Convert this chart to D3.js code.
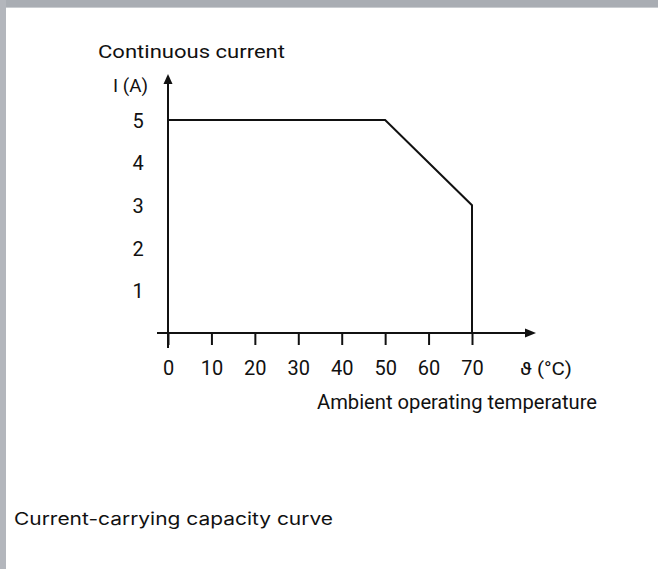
<!DOCTYPE html>
<html>
<head>
<meta charset="utf-8">
<script src="https://cdn.jsdelivr.net/npm/d3@7"></script>
<style>
  html, body { margin: 0; padding: 0; background: #fff; }
  svg { display: block; }
  .lbl { font-family: Roboto, "Noto Sans", sans-serif; fill: #111; }
</style>
</head>
<body>
<svg id="chart" width="658" height="569"></svg>
<script>
// derating curve: temperature (°C) vs continuous current (A)
var temps = [0, 50, 70, 70];
var currents = [5, 5, 3, 0];
var xTicks = [0, 10, 20, 30, 40, 50, 60, 70];
var yTicks = [1, 2, 3, 4, 5];

var width = 658, height = 569;
var svg = d3.select('#chart');

// frame of the page
svg.append('rect').attr('x', 0).attr('y', 0).attr('width', width).attr('height', 7).attr('fill', '#a9adb3');
svg.append('rect').attr('x', 0).attr('y', 0).attr('width', 6).attr('height', height).attr('fill', '#b3b6bc');
svg.append('rect').attr('x', 6).attr('y', 7).attr('width', width - 6).attr('height', 1).attr('fill', '#c9ccd0');

var x = d3.scaleLinear().domain([0, 70]).range([168, 472]);
var y = d3.scaleLinear().domain([0, 5]).range([333, 120]);

var g = svg.append('g');

// x axis ticks + labels
var xAxis = g.append('g')
    .attr('transform', 'translate(0,' + y(0) + ')')
    .call(d3.axisBottom(x).tickValues(xTicks).tickSize(12).tickFormat(d3.format('d')));
xAxis.select('.domain').remove();
xAxis.selectAll('.tick line').attr('stroke', '#111').attr('stroke-width', 2);
xAxis.selectAll('.tick text')
    .attr('class', 'lbl')
    .attr('y', 42).attr('dy', 0)
    .attr('font-size', 20);

// y axis labels
var yAxis = g.append('g')
    .attr('transform', 'translate(' + x(0) + ',0)')
    .call(d3.axisLeft(y).tickValues(yTicks).tickSize(0).tickFormat(d3.format('d')));
yAxis.select('.domain').remove();
yAxis.selectAll('.tick text')
    .attr('class', 'lbl')
    .attr('x', -30).attr('dy', '0.36em')
    .attr('text-anchor', 'middle')
    .attr('font-size', 20);

// axis lines with arrow heads
g.append('line')
    .attr('x1', x(0) - 11).attr('x2', 526)
    .attr('y1', y(0)).attr('y2', y(0))
    .attr('stroke', '#111').attr('stroke-width', 2);
g.append('path')
    .attr('d', 'M525,' + (y(0) - 4.5) + 'L536,' + y(0) + 'L525,' + (y(0) + 4.5) + 'Z')
    .attr('fill', '#111');

g.append('line')
    .attr('x1', x(0)).attr('x2', x(0))
    .attr('y1', y(0) + 15).attr('y2', 83)
    .attr('stroke', '#111').attr('stroke-width', 2);
g.append('path')
    .attr('d', 'M' + (x(0) - 4.5) + ',84L' + x(0) + ',74L' + (x(0) + 4.5) + ',84Z')
    .attr('fill', '#111');

// the curve
var line = d3.line()
    .x(function(d, i) { return x(temps[i]); })
    .y(function(d, i) { return y(currents[i]); });
g.append('path')
    .datum(temps)
    .attr('d', line)
    .attr('fill', 'none')
    .attr('stroke', '#111')
    .attr('stroke-width', 2)
    .attr('stroke-linejoin', 'miter');

// titles
g.append('text').attr('class', 'lbl')
    .attr('x', 98).attr('y', 58)
    .attr('font-size', 19)
    .attr('textLength', 187).attr('lengthAdjust', 'spacingAndGlyphs')
    .text('Continuous current');
g.append('text').attr('class', 'lbl')
    .attr('x', 113).attr('y', 92)
    .attr('font-size', 19)
    .attr('textLength', 35).attr('lengthAdjust', 'spacingAndGlyphs')
    .text('I (A)');
g.append('text').attr('class', 'lbl')
    .attr('x', 520).attr('y', 375)
    .attr('font-size', 19)
    .attr('textLength', 52).attr('lengthAdjust', 'spacingAndGlyphs')
    .text('ϑ (°C)');
g.append('text').attr('class', 'lbl')
    .attr('x', 317).attr('y', 409)
    .attr('font-size', 20)
    .attr('textLength', 280).attr('lengthAdjust', 'spacingAndGlyphs')
    .text('Ambient operating temperature');

svg.append('text')
    .attr('x', 14).attr('y', 525)
    .attr('font-family', 'Inter, "Liberation Sans", sans-serif')
    .attr('font-size', 17.5)
    .attr('fill', '#111')
    .attr('textLength', 319).attr('lengthAdjust', 'spacingAndGlyphs')
    .text('Current-carrying capacity curve');
</script>
</body>
</html>
